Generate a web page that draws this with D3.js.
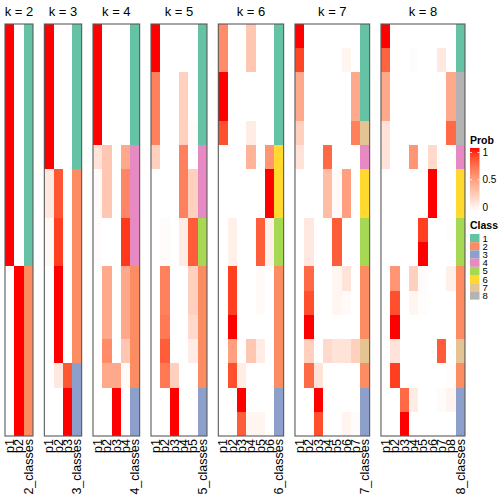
<!DOCTYPE html>
<html><head><meta charset="utf-8">
<script src="https://cdn.jsdelivr.net/npm/d3@7"></script>
<style>body{margin:0;background:#fff}svg{display:block}text{font-family:"Liberation Sans",Arial,sans-serif}</style>
</head><body><svg id="c" width="504" height="504"></svg>
<script>
const ks = [2,3,4,5,6,7,8];
const nRows = 17;
// probabilities: one array per column p1..pk, 17 samples each
const prob2 = [
 [1,1,1,1,1,1,1,1,1,1,0,0,0,0,0,0,0],
 [0,0,0,0,0,0,0,0,0,0,1,1,1,1,1,1,1]];
const class2 = [1,1,1,1,1,1,1,1,1,1,2,2,2,2,2,2,2];
const prob3 = [
 [1,1,1,1,1,1,0.12,0.12,0.04,0.04,0,0,0,0,0,0,0],
 [0,0,0,0,0,0,0.82,0.82,0.9,0.9,1,1,1,1,0.12,0,0],
 [0,0,0,0,0,0,0,0,0,0,0,0,0,0,0.82,1,1]];
const class3 = [1,1,1,1,1,1,2,2,2,2,2,2,2,2,3,3,3];
const prob4 = [
 [1,1,1,1,1,0.15,0.02,0.02,0.02,0.02,0,0,0,0,0,0,0],
 [0,0,0,0,0,0.3,0.3,0.3,0,0,0.45,0.45,0.45,0.6,0.45,0,0],
 [0,0,0,0,0,0,0,0,0,0,0,0,0,0,0.45,1,1],
 [0,0,0,0,0,0.45,0.62,0.62,0.92,0.92,0.45,0.45,0.45,0.3,0.02,0,0]];
const class4 = [1,1,1,1,1,4,4,4,4,4,2,2,2,2,2,3,3];
const prob5 = [
 [1,1,0.65,0.65,0.65,0.25,0,0,0,0,0,0,0,0,0,0,0],
 [0,0,0,0,0,0,0,0,0.02,0.02,0.65,0.65,0.68,0.8,0.68,0,0],
 [0,0,0,0,0,0,0,0,0,0,0,0,0,0,0.25,1,1],
 [0,0,0.25,0.25,0.25,0.65,0.65,0.65,0.1,0.1,0,0,0,0,0,0,0],
 [0,0,0,0,0.02,0,0.25,0.25,0.8,0.8,0.25,0.25,0.2,0.1,0,0,0]];
const class5 = [1,1,1,1,1,4,4,4,5,5,2,2,2,2,2,3,3];
const prob6 = [
 [0.6,0.6,1,1,0.85,0,0,0,0,0,0,0,0,0,0,0,0],
 [0,0,0,0,0,0,0,0,0.08,0.08,0.9,0.9,1,0.5,0.85,0,0],
 [0,0,0,0,0,0,0,0,0,0,0,0,0,0,0.1,1,0.8],
 [0.3,0.3,0,0,0.1,0.4,0,0,0,0,0,0,0,0.3,0,0,0.05],
 [0,0,0,0,0,0,0,0,0.8,0.8,0.03,0.03,0,0.1,0,0,0.05],
 [0,0,0,0,0,0.55,1,1,0.08,0.08,0,0,0,0,0,0,0]];
const class6 = [1,1,1,1,1,6,6,6,5,5,2,2,2,2,2,3,3];
const prob7 = [
 [1,0.88,0.45,0.45,0.25,0.15,0,0,0,0,0,0,0,0,0,0,0],
 [0,0,0,0,0,0,0,0,0.12,0.12,0.75,0.85,1,0.25,0.75,0,0],
 [0,0,0,0,0,0,0,0,0,0,0,0,0,0,0.15,1,0.85],
 [0,0,0,0,0,0.75,0.35,0.35,0,0,0,0,0,0.2,0,0,0],
 [0,0,0,0,0,0,0.03,0.03,0.8,0.8,0.05,0.05,0,0.15,0,0,0],
 [0,0.05,0,0,0,0,0.5,0.5,0,0,0.15,0.03,0,0.15,0,0,0.06],
 [0,0,0.45,0.45,0.65,0,0,0,0,0,0,0,0,0.25,0,0,0.02]];
const class7 = [1,1,1,1,7,4,6,6,5,5,2,2,2,7,2,3,3];
const prob8 = [
 [1,0.78,0.45,0.45,0.15,0.15,0,0,0,0,0,0,0,0,0,0,0],
 [0,0,0,0,0,0,0,0,0,0,0.55,0.85,1,0.15,0.9,0,0],
 [0,0,0,0,0,0,0,0,0,0,0,0,0,0,0,0.75,1],
 [0,0.01,0,0,0,0.55,0,0,0,0,0.25,0.05,0,0,0,0.1,0],
 [0,0,0,0,0,0,0,0,0.9,1,0.02,0.01,0,0,0,0,0],
 [0,0,0,0,0,0.2,1,1,0,0,0,0,0,0,0,0,0],
 [0,0.12,0,0,0,0,0,0,0,0,0,0,0,0.8,0,0.02,0],
 [0,0,0.45,0.45,0.75,0,0,0,0.01,0,0.08,0,0,0,0.01,0.06,0]];
const class8 = [1,1,8,8,8,4,6,6,5,5,2,2,2,7,2,3,3];
const classLabels = ["1","2","3","4","5","6","7","8"];
const classColors = ["#66C2A5","#FC8D62","#8DA0CB","#E78AC3","#A6D854","#FFD92F","#E5C494","#B3B3B3"];
const probTicks = [0, 0.5, 1];

const probs = {2:prob2,3:prob3,4:prob4,5:prob5,6:prob6,7:prob7,8:prob8};
const classes = {2:class2,3:class3,4:class4,5:class5,6:class6,7:class7,8:class8};

const svg = d3.select("#c");
const colW = 9.333, gap = 11.33, leftX = 5, topY = 24, bottomY = 436;
const probColor = d3.scaleLinear().domain([0,1]).range(["#ffffff","#ff0000"]).interpolate(d3.interpolateLab);
const classColor = d3.scaleOrdinal().domain(classLabels.map(Number)).range(classColors);
const yRow = d3.scaleBand().domain(d3.range(nRows)).range([topY, bottomY]);

let x0 = leftX;
ks.forEach(k => {
  const cols = d3.range(1,k+1).map(i => "p"+i).concat([k+"_classes"]);
  const x = d3.scaleBand().domain(cols).range([x0, x0 + cols.length*colW]);
  const g = svg.append("g");
  const cells = [];
  probs[k].forEach((col, ci) => col.forEach((v, r) => cells.push({c: cols[ci], r, fill: probColor(v)})));
  classes[k].forEach((v, r) => cells.push({c: cols[k], r, fill: classColor(v)}));
  g.selectAll("rect.cell").data(cells).join("rect")
    .attr("x", d => x(d.c)).attr("y", d => yRow(d.r))
    .attr("width", x.bandwidth()+0.3).attr("height", yRow.bandwidth()+0.3)
    .attr("fill", d => d.fill).attr("shape-rendering","crispEdges");
  g.append("rect").attr("x", x0).attr("y", topY)
    .attr("width", cols.length*colW).attr("height", bottomY-topY)
    .attr("fill","none").attr("stroke","#5a5a5a").attr("stroke-width",1.1);
  g.append("text").attr("x", x0 + cols.length*colW/2).attr("y", 16)
    .attr("text-anchor","middle").attr("font-size",13).text("k = " + k);
  g.selectAll("text.lab").data(cols).join("text")
    .attr("transform", d => `translate(${x(d)+x.bandwidth()/2},${bottomY+3}) rotate(-90)`)
    .attr("text-anchor","end").attr("dy","0.35em").attr("font-size",12.5).text(d => d);
  x0 += cols.length*colW + gap;
});

// Legend: Prob
const lx = 470;
svg.append("text").attr("x", lx).attr("y", 144).attr("font-size",10.5).attr("font-weight","bold").text("Prob");
const ly = d3.scaleLinear().domain([0,1]).range([207,152.5]);
const defs = svg.append("defs");
const grad = defs.append("linearGradient").attr("id","pg").attr("x1",0).attr("x2",0).attr("y1",1).attr("y2",0);
d3.range(0,1.001,0.1).forEach(t => grad.append("stop").attr("offset", t).attr("stop-color", probColor(t)));
svg.append("rect").attr("x", lx).attr("y", ly(1)-4.5).attr("width", 9.5).attr("height", ly(0)-ly(1)+9)
  .attr("fill","url(#pg)");
probTicks.forEach(t => {
  svg.append("line").attr("x1",lx).attr("x2",lx+2).attr("y1",ly(t)).attr("y2",ly(t)).attr("stroke","#fff").attr("stroke-width",0.8);
  svg.append("line").attr("x1",lx+7.5).attr("x2",lx+9.5).attr("y1",ly(t)).attr("y2",ly(t)).attr("stroke","#fff").attr("stroke-width",0.8);
  svg.append("text").attr("x", lx+12.5).attr("y", ly(t)).attr("dy","0.35em").attr("font-size",10).text(d3.format("")(t));
});
// Legend: Class
svg.append("text").attr("x", lx).attr("y", 229).attr("font-size",10.5).attr("font-weight","bold").text("Class");
const cy = d3.scaleBand().domain(classLabels).range([234, 234 + 8.2*classLabels.length]);
svg.selectAll("rect.leg").data(classLabels).join("rect")
  .attr("x", lx).attr("y", d => cy(d)).attr("width", 9.5).attr("height", cy.bandwidth())
  .attr("fill", (d,i) => classColors[i]);
svg.selectAll("text.leg").data(classLabels).join("text")
  .attr("x", lx+12.5).attr("y", d => cy(d)+cy.bandwidth()/2).attr("dy","0.36em")
  .attr("font-size",9.5).text(d => d);
</script></body></html>
